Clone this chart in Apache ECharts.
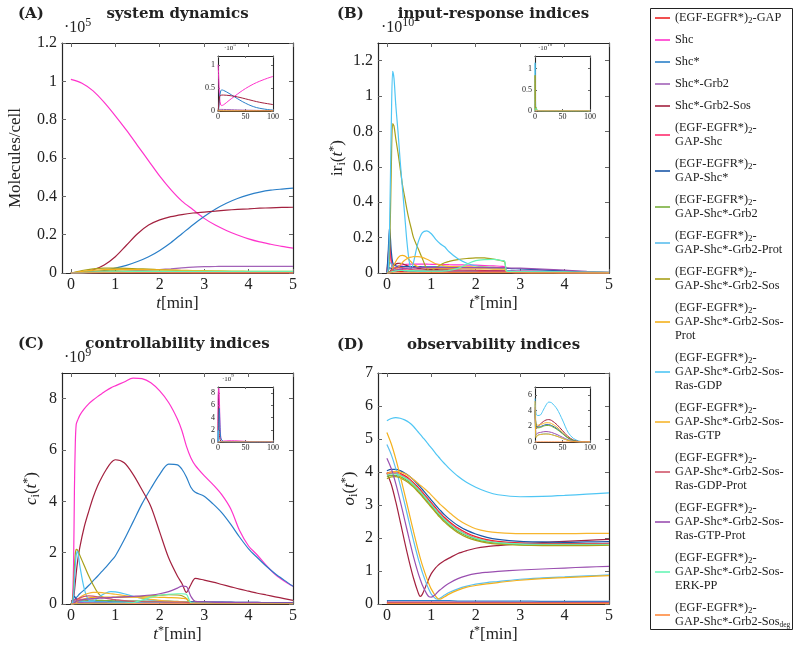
<!DOCTYPE html>
<html>
<head>
<meta charset="utf-8">
<title>EGF signalling: dynamics and sensitivity indices</title>
<script src="https://cdn.jsdelivr.net/npm/echarts@6/dist/echarts.min.js"></script>
<style>
  html, body { margin: 0; padding: 0; background: #fff; }
  #chart { width: 795px; height: 648px; }
</style>
</head>
<body>
<div id="chart"></div>
<script>
// ---------------------------------------------------------------------------
// Species (legend order) and their line colours
// ---------------------------------------------------------------------------
const speciesNames = [
  '(EGF-EGFR*)2-GAP', 'Shc', 'Shc*', 'Shc*-Grb2', 'Shc*-Grb2-Sos',
  '(EGF-EGFR*)2-GAP-Shc', '(EGF-EGFR*)2-GAP-Shc*', '(EGF-EGFR*)2-GAP-Shc*-Grb2',
  '(EGF-EGFR*)2-GAP-Shc*-Grb2-Prot', '(EGF-EGFR*)2-GAP-Shc*-Grb2-Sos',
  '(EGF-EGFR*)2-GAP-Shc*-Grb2-Sos-Prot', '(EGF-EGFR*)2-GAP-Shc*-Grb2-Sos-Ras-GDP',
  '(EGF-EGFR*)2-GAP-Shc*-Grb2-Sos-Ras-GTP', '(EGF-EGFR*)2-GAP-Shc*-Grb2-Sos-Ras-GDP-Prot',
  '(EGF-EGFR*)2-GAP-Shc*-Grb2-Sos-Ras-GTP-Prot', '(EGF-EGFR*)2-GAP-Shc*-Grb2-Sos-ERK-PP',
  '(EGF-EGFR*)2-GAP-Shc*-Grb2-Sos-deg'
];
const legendLabels = [
  '(EGF-EGFR*){sub|2}-GAP', 'Shc', 'Shc*', 'Shc*-Grb2', 'Shc*-Grb2-Sos',
  '(EGF-EGFR*){sub|2}-\nGAP-Shc', '(EGF-EGFR*){sub|2}-\nGAP-Shc*', '(EGF-EGFR*){sub|2}-\nGAP-Shc*-Grb2',
  '(EGF-EGFR*){sub|2}-\nGAP-Shc*-Grb2-Prot', '(EGF-EGFR*){sub|2}-\nGAP-Shc*-Grb2-Sos',
  '(EGF-EGFR*){sub|2}-\nGAP-Shc*-Grb2-Sos-\nProt', '(EGF-EGFR*){sub|2}-\nGAP-Shc*-Grb2-Sos-\nRas-GDP',
  '(EGF-EGFR*){sub|2}-\nGAP-Shc*-Grb2-Sos-\nRas-GTP', '(EGF-EGFR*){sub|2}-\nGAP-Shc*-Grb2-Sos-\nRas-GDP-Prot',
  '(EGF-EGFR*){sub|2}-\nGAP-Shc*-Grb2-Sos-\nRas-GTP-Prot', '(EGF-EGFR*){sub|2}-\nGAP-Shc*-Grb2-Sos-\nERK-PP',
  '(EGF-EGFR*){sub|2}-\nGAP-Shc*-Grb2-Sos{subs|deg}'
];
const speciesColors = [
  '#ee2424', '#ff33cc', '#2a7fc8', '#a262b8', '#a3213f',
  '#ff2d6e', '#1b58a8', '#78b03c', '#5cbfee', '#a8a019',
  '#f4b11c', '#4fc6f4', '#f7b62e', '#d0566a', '#9a4fb0',
  '#66f5b5', '#ff8a3d'
];

// ---------------------------------------------------------------------------
// (A) system dynamics, molecules/cell in units of 1e5
// ---------------------------------------------------------------------------
const tA = [0,0.25,0.5,0.75,1, 1.25,1.5,1.75,2,2.25, 2.5,2.75,3,3.25,3.5, 3.75,4,4.25,4.5,4.75, 5];
const dynA = [
  [0,0.004,0.005,0.005,0.004, 0.004,0.003,0.003,0.003,0.002, 0.002,0.002,0.002,0.002,0.002, 0.002,0.002,0.002,0.002,0.002, 0.002],
  [1.01,0.99,0.95,0.89,0.82, 0.745,0.665,0.585,0.505,0.435, 0.375,0.33,0.285,0.25,0.222, 0.198,0.178,0.162,0.15,0.139, 0.13],
  [0,0.002,0.006,0.013,0.025, 0.04,0.06,0.085,0.118,0.158, 0.205,0.252,0.295,0.333,0.364, 0.389,0.408,0.422,0.432,0.438, 0.443],
  [0,0.001,0.002,0.004,0.006, 0.009,0.012,0.015,0.018,0.022, 0.027,0.031,0.033,0.034,0.035, 0.035,0.035,0.035,0.035,0.035, 0.035],
  [0,0.003,0.016,0.042,0.085, 0.145,0.205,0.25,0.277,0.294, 0.305,0.313,0.318,0.323,0.328, 0.332,0.335,0.338,0.34,0.342, 0.343],
  [0,0.003,0.004,0.004,0.004, 0.003,0.003,0.003,0.003,0.003, 0.003,0.002,0.002,0.002,0.002, 0.002,0.002,0.002,0.002,0.002, 0.002],
  [0,0.004,0.006,0.007,0.007, 0.007,0.006,0.006,0.005,0.005, 0.005,0.004,0.004,0.004,0.004, 0.004,0.003,0.003,0.003,0.003, 0.003],
  [0,0.006,0.01,0.011,0.011, 0.01,0.009,0.008,0.008,0.007, 0.007,0.006,0.006,0.006,0.005, 0.005,0.005,0.005,0.005,0.005, 0.005],
  [0,0.002,0.003,0.003,0.003, 0.003,0.003,0.003,0.002,0.002, 0.002,0.002,0.002,0.002,0.002, 0.002,0.002,0.002,0.002,0.002, 0.002],
  [0,0.013,0.022,0.025,0.025, 0.024,0.022,0.02,0.017,0.015, 0.013,0.011,0.01,0.009,0.008, 0.007,0.006,0.006,0.005,0.005, 0.005],
  [0,0.008,0.015,0.018,0.019, 0.019,0.018,0.017,0.016,0.015, 0.014,0.013,0.012,0.011,0.01, 0.01,0.009,0.009,0.008,0.008, 0.008],
  [0,0.002,0.004,0.005,0.005, 0.005,0.005,0.005,0.005,0.004, 0.004,0.004,0.004,0.004,0.004, 0.004,0.004,0.004,0.004,0.004, 0.004],
  [0,0.002,0.004,0.006,0.007, 0.008,0.008,0.008,0.008,0.008, 0.007,0.007,0.007,0.007,0.007, 0.007,0.007,0.007,0.007,0.007, 0.007],
  [0,0.001,0.002,0.002,0.002, 0.002,0.002,0.002,0.002,0.002, 0.002,0.002,0.002,0.002,0.002, 0.002,0.002,0.002,0.002,0.002, 0.002],
  [0,0.001,0.002,0.003,0.003, 0.004,0.004,0.004,0.004,0.004, 0.004,0.004,0.004,0.004,0.004, 0.004,0.004,0.004,0.004,0.004, 0.004],
  [0,0.001,0.003,0.005,0.006, 0.007,0.008,0.008,0.009,0.009, 0.009,0.009,0.009,0.009,0.009, 0.008,0.008,0.008,0.008,0.008, 0.008],
  [0,0,0.001,0.001,0.001, 0.001,0.001,0.001,0.001,0.001, 0.001,0.001,0.001,0.001,0.001, 0.001,0.001,0.001,0.001,0.001, 0.001]
];
// long-horizon view (0..100 min)
const tAlong = [0,1,3,5,7, 10,15,20,30,40, 50,60,70,80,90, 100];
const dynAlongSpecies = [1, 2, 4, 3, 9, 16];
const dynAlong = [
  [1.01,0.82,0.285,0.13,0.12, 0.135,0.18,0.23,0.32,0.41, 0.49,0.56,0.62,0.67,0.715, 0.755],
  [0,0.025,0.295,0.443,0.46, 0.45,0.42,0.385,0.31,0.235, 0.17,0.115,0.075,0.05,0.032, 0.02],
  [0,0.085,0.318,0.343,0.348, 0.348,0.344,0.338,0.32,0.295, 0.265,0.235,0.205,0.18,0.16, 0.14],
  [0,0.006,0.033,0.035,0.035, 0.034,0.032,0.03,0.026,0.022, 0.019,0.016,0.013,0.011,0.01, 0.009],
  [0,0.025,0.01,0.005,0.004, 0.003,0.002,0.002,0.001,0.001, 0.001,0.001,0.001,0.001,0.001, 0.001],
  [0,0.001,0.001,0.001,0.001, 0.001,0.001,0.001,0.001,0.001, 0.001,0.001,0.001,0.001,0.001, 0.001]
];

// ---------------------------------------------------------------------------
// (B) input-response indices, units of 1e10
// ---------------------------------------------------------------------------
const tB = [0,0.03,0.06,0.1,0.13, 0.16,0.2,0.25,0.3,0.35, 0.4,0.45,0.5,0.55,0.6, 0.7,0.8,0.9,1.0,1.1,
            1.2,1.3,1.4,1.6,1.8, 2.0,2.2,2.4,2.6,2.65, 2.7,2.8,3.0,3.5,4.0, 4.5,5.0];
const irB = [
  [0,0.1,0.185,0.06,0.02, 0.012,0.01,0.009,0.008,0.008, 0.007,0.007,0.007,0.006,0.006, 0.006,0.005,0.005,0.005,0.005, 0.005,0.005,0.004,0.004,0.004, 0.004,0.004,0.003,0.003,0.003, 0.003,0.003,0.002,0.002,0.001, 0.001,0.001],
  [0,0,0.002,0.008,0.015, 0.022,0.03,0.038,0.043,0.046, 0.048,0.049,0.05,0.05,0.05, 0.05,0.05,0.05,0.049,0.049, 0.048,0.048,0.047,0.046,0.045, 0.044,0.042,0.04,0.038,0.036, 0.01,0.008,0.006,0.004,0.003, 0.002,0.001],
  [0,0.01,0.03,0.025,0.02, 0.018,0.016,0.015,0.014,0.014, 0.013,0.013,0.013,0.013,0.013, 0.012,0.012,0.012,0.012,0.012, 0.012,0.012,0.012,0.011,0.011, 0.011,0.011,0.01,0.01,0.01, 0.009,0.009,0.008,0.007,0.005, 0.003,0.002],
  [0,0,0.002,0.006,0.009, 0.011,0.013,0.014,0.015,0.015, 0.015,0.015,0.015,0.015,0.015, 0.015,0.015,0.015,0.015,0.015, 0.015,0.015,0.015,0.015,0.015, 0.015,0.014,0.014,0.014,0.014, 0.013,0.013,0.012,0.011,0.009, 0.006,0.003],
  [0,0,0.005,0.02,0.032, 0.042,0.05,0.054,0.055,0.052, 0.047,0.042,0.037,0.033,0.03, 0.026,0.023,0.021,0.02,0.019, 0.018,0.018,0.017,0.016,0.015, 0.014,0.013,0.012,0.011,0.011, 0.004,0.004,0.003,0.002,0.002, 0.001,0.001],
  [0,0.07,0.15,0.07,0.035, 0.028,0.024,0.022,0.02,0.019, 0.018,0.017,0.016,0.016,0.015, 0.015,0.014,0.014,0.013,0.013, 0.013,0.012,0.012,0.012,0.011, 0.011,0.01,0.01,0.01,0.01, 0.003,0.003,0.002,0.002,0.001, 0.001,0.001],
  [0,0.12,0.26,0.12,0.06, 0.045,0.04,0.038,0.037,0.036, 0.036,0.036,0.036,0.036,0.036, 0.036,0.035,0.035,0.035,0.035, 0.034,0.034,0.034,0.033,0.032, 0.031,0.03,0.029,0.028,0.027, 0.026,0.025,0.023,0.018,0.012, 0.006,0.002],
  [0,0,0.003,0.008,0.012, 0.014,0.015,0.015,0.015,0.014, 0.014,0.013,0.013,0.012,0.012, 0.011,0.011,0.01,0.01,0.01, 0.009,0.009,0.009,0.008,0.008, 0.008,0.007,0.007,0.007,0.007, 0.003,0.003,0.002,0.002,0.001, 0.001,0.001],
  [0,0.01,0.06,0.05,0.03, 0.022,0.018,0.016,0.015,0.014, 0.013,0.013,0.012,0.012,0.012, 0.011,0.011,0.011,0.01,0.01, 0.01,0.01,0.01,0.009,0.009, 0.009,0.008,0.008,0.008,0.008, 0.003,0.003,0.002,0.002,0.001, 0.001,0.001],
  [0,0.005,0.1,0.6,0.845, 0.83,0.76,0.68,0.59,0.5, 0.43,0.36,0.3,0.25,0.2, 0.14,0.08,0.025,0.012,0.03, 0.045,0.058,0.066,0.076,0.082, 0.086,0.085,0.078,0.068,0.064, 0.008,0.004,0.003,0.002,0.001, 0.001,0.001],
  [0,0,0.002,0.01,0.025, 0.045,0.065,0.085,0.097,0.1, 0.097,0.088,0.075,0.062,0.05, 0.035,0.03,0.028,0.027,0.026, 0.025,0.025,0.025,0.024,0.024, 0.023,0.023,0.022,0.022,0.021, 0.004,0.003,0.003,0.002,0.002, 0.001,0.001],
  [0,0.02,0.25,0.85,1.14, 1.1,0.95,0.8,0.63,0.48, 0.33,0.18,0.07,0.02,0.06, 0.17,0.228,0.238,0.222,0.19, 0.165,0.148,0.12,0.08,0.055, 0.04,0.035,0.032,0.03,0.028, 0.012,0.01,0.008,0.005,0.003, 0.002,0.001],
  [0,0,0,0.002,0.005, 0.01,0.018,0.03,0.045,0.06, 0.072,0.081,0.087,0.09,0.092, 0.092,0.088,0.078,0.065,0.052, 0.045,0.04,0.038,0.036,0.035, 0.034,0.033,0.032,0.03,0.028, 0.004,0.003,0.003,0.002,0.002, 0.001,0.001],
  [0,0,0.004,0.012,0.02, 0.026,0.03,0.032,0.032,0.03, 0.028,0.025,0.022,0.02,0.018, 0.016,0.015,0.014,0.013,0.012, 0.012,0.011,0.011,0.01,0.01, 0.01,0.009,0.009,0.009,0.008, 0.003,0.003,0.002,0.002,0.001, 0.001,0.001],
  [0,0,0.001,0.004,0.008, 0.012,0.016,0.02,0.023,0.025, 0.026,0.027,0.028,0.028,0.029, 0.03,0.03,0.03,0.03,0.03, 0.03,0.03,0.03,0.03,0.03, 0.03,0.03,0.03,0.03,0.03, 0.029,0.028,0.027,0.022,0.016, 0.009,0.004],
  [0,0,0.002,0.005,0.008, 0.01,0.012,0.013,0.014,0.014, 0.014,0.014,0.013,0.013,0.013, 0.012,0.012,0.011,0.011,0.011, 0.011,0.012,0.014,0.026,0.05, 0.07,0.076,0.077,0.07,0.066, 0.01,0.008,0.007,0.006,0.006, 0.005,0.004],
  [0,0,0,0.001,0.001, 0.001,0.001,0.001,0.001,0.001, 0.001,0.001,0.001,0.001,0.001, 0.001,0.001,0.001,0.001,0.001, 0.001,0.001,0.001,0.001,0.001, 0.001,0.001,0.001,0.001,0.001, 0.001,0.001,0.001,0.001,0.001, 0.001,0.001]
];
const tBlong = [0,0.13,0.5,0.9,2, 5,20,50,100];
const irBlongSpecies = [11, 9, 15, 16];
const irBlong = [
  [0,1.14,0.07,0.238,0.04, 0.001,0,0,0],
  [0,0.845,0.3,0.025,0.086, 0.001,0,0,0],
  [0,0.008,0.013,0.011,0.07, 0.004,0.001,0,0],
  [0,0.001,0.001,0.001,0.001, 0.001,0.001,0.001,0.001]
];

// ---------------------------------------------------------------------------
// (C) controllability indices, units of 1e9
// ---------------------------------------------------------------------------
const tC = [0,0.03,0.06,0.08,0.1, 0.12,0.15,0.2,0.3,0.4, 0.5,0.6,0.7,0.8,0.9, 1.0,1.2,1.4,1.6,1.8,
            2.0,2.2,2.4,2.5,2.6, 2.7,2.8,3.0,3.2,3.4, 3.6,3.8,4.0,4.2,4.4, 4.6,4.8,5.0];
const ctrlC = [
  [0,0.01,0.05,0.08,0.1, 0.1,0.1,0.09,0.08,0.07, 0.07,0.06,0.06,0.06,0.05, 0.05,0.05,0.05,0.05,0.05, 0.05,0.05,0.05,0.05,0.05, 0.04,0.04,0.04,0.04,0.04, 0.04,0.03,0.03,0.03,0.03, 0.03,0.03,0.03],
  [0,0.02,1.5,4.5,6.3, 7.0,7.15,7.35,7.6,7.8, 7.95,8.08,8.2,8.32,8.42, 8.5,8.65,8.8,8.78,8.62, 8.3,7.85,7.2,6.75,6.15, 5.7,5.4,5.0,4.65,4.25, 3.7,2.85,2.26,1.9,1.5, 1.15,0.9,0.69],
  [0,0.03,0.1,0.15,0.2, 0.25,0.3,0.4,0.55,0.72, 0.9,1.08,1.27,1.46,1.66, 1.87,2.5,3.2,3.9,4.5, 5.05,5.45,5.42,5.25,4.95, 4.55,4.35,4.2,3.9,3.55, 3.1,2.6,2.15,1.8,1.47, 1.18,0.93,0.69],
  [0,0,0.01,0.02,0.03, 0.04,0.05,0.06,0.07,0.08, 0.08,0.08,0.08,0.08,0.08, 0.08,0.08,0.08,0.08,0.08, 0.08,0.08,0.08,0.08,0.08, 0.07,0.07,0.07,0.07,0.07, 0.06,0.06,0.06,0.06,0.05, 0.05,0.05,0.05],
  [0,0.01,0.2,0.5,0.85, 1.2,1.65,2.2,3.0,3.6, 4.15,4.6,4.95,5.25,5.5, 5.62,5.5,5.05,4.45,3.8, 2.8,1.8,1.08,0.8,0.45, 0.75,1.0,0.93,0.85,0.76, 0.67,0.58,0.5,0.42,0.35, 0.28,0.21,0.14],
  [0,0.02,0.1,0.15,0.18, 0.2,0.2,0.19,0.17,0.15, 0.14,0.13,0.12,0.11,0.1, 0.1,0.09,0.09,0.08,0.08, 0.08,0.08,0.08,0.07,0.07, 0.04,0.04,0.04,0.03,0.03, 0.03,0.03,0.03,0.03,0.02, 0.02,0.02,0.02],
  [0,0.05,0.25,0.3,0.25, 0.2,0.15,0.12,0.1,0.1, 0.1,0.1,0.1,0.1,0.1, 0.1,0.1,0.1,0.1,0.1, 0.1,0.1,0.09,0.09,0.09, 0.08,0.08,0.08,0.07,0.07, 0.07,0.06,0.06,0.06,0.05, 0.05,0.05,0.05],
  [0,0,0.02,0.05,0.08, 0.1,0.12,0.14,0.15,0.15, 0.15,0.14,0.14,0.13,0.13, 0.12,0.12,0.11,0.11,0.1, 0.1,0.1,0.1,0.09,0.09, 0.05,0.04,0.04,0.04,0.03, 0.03,0.03,0.03,0.03,0.03, 0.02,0.02,0.02],
  [0,0.01,0.05,0.1,0.12, 0.12,0.12,0.11,0.1,0.09, 0.09,0.08,0.08,0.08,0.07, 0.07,0.07,0.06,0.06,0.06, 0.06,0.05,0.05,0.05,0.05, 0.03,0.03,0.03,0.03,0.03, 0.02,0.02,0.02,0.02,0.02, 0.02,0.02,0.02],
  [0,0.05,0.6,1.4,1.95, 2.13,2.1,1.9,1.5,1.1, 0.75,0.45,0.28,0.24,0.25, 0.26,0.28,0.29,0.3,0.32, 0.34,0.36,0.35,0.32,0.22, 0.03,0.02,0.02,0.02,0.02, 0.02,0.02,0.02,0.02,0.02, 0.02,0.02,0.02],
  [0,0,0.01,0.02,0.04, 0.06,0.1,0.15,0.2,0.24, 0.26,0.27,0.27,0.27,0.27, 0.27,0.27,0.27,0.27,0.27, 0.26,0.25,0.24,0.22,0.2, 0.03,0.02,0.02,0.02,0.02, 0.02,0.02,0.02,0.02,0.02, 0.02,0.02,0.02],
  [0,0.03,0.3,0.9,1.5, 1.9,2.05,1.5,0.6,0.15, 0.12,0.22,0.35,0.44,0.48, 0.47,0.4,0.3,0.22,0.16, 0.12,0.1,0.09,0.085,0.08, 0.05,0.04,0.03,0.03,0.03, 0.02,0.02,0.02,0.02,0.02, 0.02,0.02,0.02],
  [0,0,0.01,0.03,0.06, 0.1,0.16,0.25,0.36,0.42, 0.45,0.45,0.44,0.42,0.4, 0.38,0.33,0.28,0.23,0.18, 0.14,0.11,0.09,0.08,0.07, 0.03,0.03,0.03,0.02,0.02, 0.02,0.02,0.02,0.02,0.02, 0.02,0.02,0.02],
  [0,0,0.02,0.05,0.09, 0.13,0.18,0.24,0.3,0.32, 0.31,0.28,0.25,0.22,0.19, 0.17,0.13,0.1,0.09,0.08, 0.08,0.07,0.07,0.07,0.06, 0.04,0.04,0.04,0.03,0.03, 0.03,0.03,0.03,0.03,0.02, 0.02,0.02,0.02],
  [0,0,0.02,0.05,0.08, 0.1,0.12,0.15,0.18,0.2, 0.21,0.22,0.23,0.24,0.25, 0.26,0.28,0.3,0.32,0.35, 0.4,0.48,0.62,0.7,0.68, 0.3,0.1,0.08,0.07,0.06, 0.06,0.05,0.05,0.05,0.04, 0.04,0.04,0.04],
  [0,0,0,0,0.005, 0.008,0.01,0.012,0.015,0.018, 0.02,0.02,0.02,0.02,0.02, 0.022,0.03,0.05,0.15,0.27, 0.34,0.38,0.4,0.4,0.38, 0.05,0.03,0.025,0.02,0.02, 0.02,0.02,0.02,0.02,0.02, 0.02,0.02,0.02],
  [0,0,0.005,0.01,0.01, 0.01,0.01,0.01,0.01,0.01, 0.01,0.01,0.01,0.01,0.01, 0.01,0.01,0.01,0.01,0.01, 0.01,0.01,0.01,0.01,0.01, 0.01,0.01,0.01,0.01,0.01, 0.01,0.01,0.01,0.01,0.01, 0.01,0.01,0.01]
];
const tClong = [0,0.12,0.3,1,1.4, 2.3,5,10,20,30, 50,70,100];
const ctrlClongSpecies = [1, 4, 2, 11, 16];
const ctrlClong = [
  [0,7.0,7.6,8.5,8.8, 7.7,0.69,0.15,0.2,0.2, 0.1,0.05,0.03],
  [0,1.2,3.0,5.62,5.05, 1.4,0.14,0.05,0.02,0.01, 0.01,0.01,0.01],
  [0,0.25,0.55,1.87,3.2, 5.5,0.69,0.08,0.03,0.02, 0.01,0.01,0.01],
  [0,1.9,0.6,0.47,0.3, 0.1,0.02,0.01,0.01,0, 0,0,0],
  [0,0.01,0.01,0.01,0.01, 0.01,0.01,0.02,0.02,0.02, 0.02,0.02,0.02]
];

// ---------------------------------------------------------------------------
// (D) observability indices
// ---------------------------------------------------------------------------
const tD = [0,0.1,0.2,0.3,0.4, 0.5,0.6,0.7,0.75,0.8, 0.9,0.95,1.0,1.1,1.15, 1.2,1.3,1.4,1.6,1.8, 2.0,2.25,2.5,3.0,3.5, 4.0,4.5,5.0];
const obsD = [
  [3.97,4.0,4.0,3.96,3.89, 3.8,3.68,3.54,3.47,3.39, 3.23,3.15,3.07,2.91,2.83, 2.76,2.62,2.5,2.3,2.15, 2.04,1.95,1.9,1.85,1.83, 1.83,1.83,1.84],
  [0.03,0.03,0.03,0.03,0.03, 0.03,0.03,0.03,0.03,0.03, 0.03,0.03,0.03,0.03,0.03, 0.03,0.03,0.03,0.03,0.03, 0.03,0.03,0.03,0.03,0.03, 0.03,0.03,0.03],
  [0.1,0.1,0.1,0.1,0.1, 0.1,0.1,0.1,0.1,0.1, 0.1,0.1,0.1,0.1,0.1, 0.1,0.1,0.1,0.09,0.09, 0.09,0.09,0.09,0.09,0.08, 0.08,0.08,0.08],
  [0.06,0.06,0.06,0.06,0.06, 0.06,0.06,0.06,0.06,0.06, 0.06,0.06,0.06,0.06,0.06, 0.06,0.06,0.06,0.055,0.055, 0.055,0.055,0.055,0.05,0.05, 0.05,0.05,0.05],
  [3.98,3.62,3.1,2.5,1.88, 1.3,0.78,0.36,0.23,0.3, 0.62,0.78,0.92,1.1,1.17, 1.23,1.32,1.39,1.53,1.62, 1.69,1.74,1.77,1.82,1.86, 1.9,1.93,1.96],
  [3.93,3.96,3.96,3.92,3.85, 3.76,3.64,3.5,3.43,3.35, 3.19,3.11,3.03,2.87,2.79, 2.72,2.58,2.46,2.26,2.11, 2.0,1.92,1.87,1.83,1.81, 1.81,1.81,1.82],
  [4.04,4.08,4.08,4.04,3.97, 3.88,3.76,3.62,3.55,3.47, 3.31,3.23,3.15,2.99,2.91, 2.84,2.7,2.58,2.38,2.23, 2.12,2.02,1.96,1.9,1.88, 1.87,1.88,1.89],
  [3.86,3.9,3.9,3.86,3.79, 3.7,3.58,3.44,3.37,3.29, 3.13,3.05,2.97,2.81,2.73, 2.66,2.52,2.4,2.2,2.06, 1.96,1.88,1.84,1.8,1.79, 1.79,1.79,1.79],
  [4.83,4.52,4.1,3.6,3.05, 2.48,1.92,1.4,1.17,0.95, 0.58,0.43,0.3,0.16,0.15, 0.18,0.27,0.35,0.46,0.54, 0.6,0.65,0.68,0.75,0.79, 0.82,0.85,0.88],
  [3.8,3.85,3.86,3.82,3.75, 3.66,3.54,3.4,3.33,3.25, 3.09,3.01,2.93,2.77,2.69, 2.62,2.48,2.36,2.16,2.02, 1.93,1.85,1.81,1.78,1.77, 1.77,1.77,1.78],
  [5.2,4.85,4.4,3.88,3.33, 2.76,2.19,1.65,1.4,1.17, 0.77,0.6,0.45,0.23,0.16, 0.15,0.22,0.3,0.42,0.51, 0.56,0.61,0.65,0.72,0.77, 0.8,0.83,0.86],
  [5.55,5.62,5.65,5.63,5.58, 5.5,5.38,5.22,5.14,5.06, 4.9,4.81,4.73,4.56,4.48, 4.4,4.25,4.11,3.87,3.68, 3.54,3.4,3.31,3.25,3.26, 3.29,3.33,3.37],
  [3.96,4.0,4.02,4.0,3.95, 3.87,3.77,3.66,3.6,3.55, 3.43,3.37,3.3,3.16,3.09, 3.02,2.9,2.78,2.56,2.4, 2.28,2.2,2.16,2.13,2.13, 2.13,2.14,2.14],
  [0.05,0.05,0.05,0.05,0.05, 0.05,0.05,0.05,0.05,0.05, 0.05,0.05,0.05,0.05,0.05, 0.05,0.05,0.05,0.045,0.045, 0.045,0.045,0.045,0.04,0.04, 0.04,0.04,0.04],
  [4.42,4.1,3.65,3.12,2.55, 1.98,1.43,0.95,0.75,0.57, 0.3,0.22,0.21,0.3,0.37, 0.43,0.54,0.63,0.77,0.86, 0.92,0.96,0.99,1.03,1.06, 1.09,1.12,1.14],
  [3.9,3.94,3.94,3.9,3.83, 3.74,3.62,3.48,3.41,3.33, 3.17,3.09,3.01,2.85,2.77, 2.7,2.56,2.44,2.24,2.09, 1.99,1.91,1.86,1.82,1.81, 1.81,1.81,1.81],
  [0.01,0.01,0.01,0.01,0.01, 0.01,0.01,0.01,0.01,0.01, 0.01,0.01,0.01,0.01,0.01, 0.01,0.01,0.01,0.01,0.01, 0.01,0.01,0.01,0.01,0.01, 0.01,0.01,0.01]
];
const tDlong = [0,2,5,10,15, 20,25,30,40,50, 60,70,80,90,100];
const obsDlongSpecies = [11, 4, 12, 6, 7, 14, 8, 10, 16];
const obsDlong = [
  [5.55,3.54,3.37,3.45,4.05, 4.7,5.08,5.0,4.2,2.8, 1.25,0.45,0.12,0.02,0],
  [3.98,1.69,1.96,2.3,2.6, 2.8,2.85,2.75,2.2,1.45, 0.7,0.25,0.05,0.01,0],
  [3.96,2.28,2.14,2.2,2.35, 2.45,2.45,2.35,1.9,1.25, 0.6,0.2,0.04,0.01,0],
  [4.04,2.12,1.89,1.95,2.1, 2.2,2.2,2.1,1.7,1.1, 0.52,0.18,0.04,0.01,0],
  [3.86,1.96,1.79,1.85,2.0, 2.1,2.1,2.0,1.6,1.05, 0.5,0.17,0.03,0.01,0],
  [4.42,0.92,1.14,1.22,1.3, 1.33,1.3,1.22,0.95,0.6, 0.28,0.09,0.02,0,0],
  [4.83,0.6,0.88,0.97,1.02, 1.04,1.02,0.95,0.74,0.47, 0.21,0.07,0.01,0,0],
  [5.2,0.56,0.86,0.95,1.0, 1.02,1.0,0.93,0.72,0.45, 0.2,0.06,0.01,0,0],
  [0.01,0.01,0.01,0.01,0.01, 0.01,0.01,0.01,0.01,0.01, 0.01,0.01,0.01,0.01,0.01]
];

// tick values
const mainTimeTicks = [0, 1, 2, 3, 4, 5];
const longTimeTicks = [0, 50, 100];
const ticksA = [0, 0.2, 0.4, 0.6, 0.8, 1, 1.2];
const ticksB = [0, 0.2, 0.4, 0.6, 0.8, 1, 1.2];
const ticksC = [0, 2, 4, 6, 8];
const ticksD = [0, 1, 2, 3, 4, 5, 6, 7];
const ticksAlong = [0, 0.5, 1];
const ticksBlong = [0, 0.5, 1];
const ticksClong = [0, 2, 4, 6, 8];
const ticksDlong = [0, 2, 4, 6];

// ---------------------------------------------------------------------------
// Chart assembly
// ---------------------------------------------------------------------------
const SERIF = '"Liberation Serif", "Times New Roman", serif';
const TITLE_FONT = '"DejaVu Serif", serif';
const INK = '#222';

const richMath = (size) => ({
  i:   { fontFamily: SERIF, fontSize: size, fontStyle: 'italic', color: INK },
  sup: { fontFamily: SERIF, fontSize: Math.round(size * 0.7), verticalAlign: 'top', lineHeight: Math.round(size * 0.7), color: INK },
  sub: { fontFamily: SERIF, fontSize: Math.round(size * 0.7), verticalAlign: 'bottom', lineHeight: Math.round(size * 0.6), color: INK }
});

const option = {
  animation: false,
  backgroundColor: '#fff',
  textStyle: { fontFamily: SERIF },
  grid: [], xAxis: [], yAxis: [], series: [], graphic: []
};

function addFrame(box, cfg) {
  const gi = option.grid.length;
  option.grid.push(Object.assign({
    show: !!cfg.small, backgroundColor: '#fff', borderWidth: 0,
    containLabel: false, outerBoundsMode: 'none', z: cfg.small ? 5 : 0
  }, box));
  const fs = cfg.small ? 8 : 16;
  const axisLine = { show: true, onZero: false, lineStyle: { color: '#262626', width: cfg.small ? 1.1 : 1.2 } };
  const tick = (vals) => ({ show: true, inside: true, length: cfg.small ? 2 : 4, customValues: vals,
                            lineStyle: { color: '#666', width: 1 } });
  const label = (vals, m) => ({ show: true, customValues: vals, fontFamily: SERIF, fontSize: fs, color: INK, margin: m });
  const z = cfg.small ? 6 : 1;
  const xi = option.xAxis.length, yi = option.yAxis.length;
  option.xAxis.push({
    type: 'value', gridIndex: gi, position: 'bottom', min: cfg.xMin, max: cfg.xMax, z,
    axisLine, axisTick: tick(cfg.xTicks), axisLabel: label(cfg.xTicks, cfg.small ? 2 : 4),
    splitLine: { show: false },
    name: cfg.xName || '', nameLocation: 'middle', nameGap: 19,
    nameTextStyle: { fontFamily: SERIF, fontSize: 17, color: INK, lineHeight: 20, rich: richMath(17) }
  });
  option.xAxis.push({
    type: 'value', gridIndex: gi, position: 'top', min: cfg.xMin, max: cfg.xMax, z,
    axisLine, axisTick: tick(cfg.xTicks), axisLabel: { show: false }, splitLine: { show: false }
  });
  option.yAxis.push({
    type: 'value', gridIndex: gi, position: 'left', min: 0, max: cfg.yMax, z,
    axisLine, axisTick: tick(cfg.yTicks), axisLabel: label(cfg.yTicks, cfg.small ? 3 : 5),
    splitLine: { show: false },
    name: cfg.yName || '', nameLocation: 'middle', nameGap: cfg.yGap || 30,
    nameTextStyle: { fontFamily: SERIF, fontSize: 17, color: INK, lineHeight: 20, rich: richMath(17) }
  });
  option.yAxis.push({
    type: 'value', gridIndex: gi, position: 'right', min: 0, max: cfg.yMax, z,
    axisLine, axisTick: tick(cfg.yTicks), axisLabel: { show: false }, splitLine: { show: false }
  });
  return { xi, yi };
}

function addCurves(axes, t, rows, speciesIdx, width, zBase) {
  speciesIdx.forEach((sp, k) => {
    option.series.push({
      type: 'line',
      name: speciesNames[sp],
      xAxisIndex: axes.xi, yAxisIndex: axes.yi,
      data: t.map((x, i) => [x, rows[k][i]]),
      symbol: 'none', showSymbol: false, smooth: 0.3, clip: true, silent: true,
      z: zBase,
      lineStyle: { width: width, color: speciesColors[sp] },
      itemStyle: { color: speciesColors[sp] }
    });
  });
}

const allSpecies = speciesNames.map((_, i) => i);

// main panels
const axA = addFrame({ left: 62, top: 43, width: 231, height: 230 },
  { xMin: -0.2, xMax: 5, xTicks: mainTimeTicks, yMax: 1.2, yTicks: ticksA,
    xName: '{i|t}[min]', yName: 'Molecules/cell', yGap: 36 });
addCurves(axA, tA, dynA, allSpecies, 1.2, 2);

const axB = addFrame({ left: 378, top: 43, width: 231, height: 230 },
  { xMin: -0.2, xMax: 5, xTicks: mainTimeTicks, yMax: 1.3, yTicks: ticksB,
    xName: '{i|t}{sup|*}[min]', yName: 'ir{sub|i}({i|t}{sup|*})', yGap: 30 });
addCurves(axB, tB, irB, allSpecies, 1.2, 2);

const axC = addFrame({ left: 62, top: 373, width: 231, height: 231 },
  { xMin: -0.2, xMax: 5, xTicks: mainTimeTicks, yMax: 9, yTicks: ticksC,
    xName: '{i|t}{sup|*}[min]', yName: '{i|c}{sub|i}({i|t}{sup|*})', yGap: 20 });
addCurves(axC, tC, ctrlC, allSpecies, 1.2, 2);

const axD = addFrame({ left: 378, top: 373, width: 231, height: 231 },
  { xMin: -0.2, xMax: 5, xTicks: mainTimeTicks, yMax: 7, yTicks: ticksD,
    xName: '{i|t}{sup|*}[min]', yName: '{i|o}{sub|i}({i|t}{sup|*})', yGap: 18 });
addCurves(axD, tD, obsD, allSpecies, 1.2, 2);

// long-horizon insets
const axAl = addFrame({ left: 218, top: 56, width: 55, height: 55 },
  { small: true, xMin: 0, xMax: 100, xTicks: longTimeTicks, yMax: 1.2, yTicks: ticksAlong });
addCurves(axAl, tAlong, dynAlong, dynAlongSpecies, 1, 7);

const axBl = addFrame({ left: 535, top: 56, width: 55, height: 55 },
  { small: true, xMin: 0, xMax: 100, xTicks: longTimeTicks, yMax: 1.3, yTicks: ticksBlong });
addCurves(axBl, tBlong, irBlong, irBlongSpecies, 1, 7);

const axCl = addFrame({ left: 218, top: 387, width: 55, height: 55 },
  { small: true, xMin: 0, xMax: 100, xTicks: longTimeTicks, yMax: 9, yTicks: ticksClong });
addCurves(axCl, tClong, ctrlClong, ctrlClongSpecies, 1, 7);

const axDl = addFrame({ left: 535, top: 387, width: 55, height: 55 },
  { small: true, xMin: 0, xMax: 100, xTicks: longTimeTicks, yMax: 7, yTicks: ticksDlong });
addCurves(axDl, tDlong, obsDlong, obsDlongSpecies, 1, 7);

// panel headings
const heading = (x, y, text, align) => ({
  type: 'text', x, y, z: 10, silent: true,
  style: { text, fontFamily: TITLE_FONT, fontSize: 15, fontWeight: 'bold', fill: INK,
           align: align, verticalAlign: 'middle' }
});
option.graphic.push(
  heading(18, 14, '(A)', 'left'),  heading(177.5, 14, 'system dynamics', 'center'),
  heading(337, 14, '(B)', 'left'), heading(493.5, 14, 'input-response indices', 'center'),
  heading(18, 344, '(C)', 'left'), heading(177.5, 344, 'controllability indices', 'center'),
  heading(337, 345, '(D)', 'left'), heading(493.5, 345, 'observability indices', 'center')
);

// axis scale factors
const scaleNote = (x, y, text, size) => ({
  type: 'text', x, y, z: 10, silent: true,
  style: { text, fontFamily: SERIF, fontSize: size, fill: INK, align: 'left', verticalAlign: 'bottom',
           lineHeight: size + 2,
           rich: { sup: { fontFamily: SERIF, fontSize: Math.round(size * 0.72), lineHeight: size + 6,
                          verticalAlign: 'top', fill: INK } } }
});
option.graphic.push(
  scaleNote(64, 39, '·10{sup|5}', 16),
  scaleNote(381, 39, '·10{sup|10}', 16),
  scaleNote(64, 369, '·10{sup|9}', 16),
  scaleNote(224, 55, '·10{sup|5}', 7),
  scaleNote(538, 55, '·10{sup|10}', 7),
  scaleNote(222, 386, '·10{sup|9}', 7)
);

// legend frame
option.graphic.push({
  type: 'rect', z: 0, silent: true,
  shape: { x: 650.5, y: 8.5, width: 142, height: 621 },
  style: { fill: 'none', stroke: '#222', lineWidth: 1 }
});

option.legend = {
  data: speciesNames,
  orient: 'vertical',
  left: 655, top: 11,
  padding: 0,
  icon: 'rect',
  itemWidth: 15, itemHeight: 1.6, itemGap: 8,
  selectedMode: false,
  formatter: (name) => legendLabels[speciesNames.indexOf(name)],
  textStyle: {
    fontFamily: SERIF, fontSize: 12.3, color: INK, lineHeight: 14,
    rich: {
      sub:  { fontFamily: SERIF, fontSize: 9, lineHeight: 8, verticalAlign: 'bottom', color: INK },
      subs: { fontFamily: SERIF, fontSize: 7.5, lineHeight: 8, verticalAlign: 'bottom', color: INK }
    }
  }
};

const chart = echarts.init(document.getElementById('chart'), null, { renderer: 'canvas' });
chart.setOption(option);
</script>
</body>
</html>
